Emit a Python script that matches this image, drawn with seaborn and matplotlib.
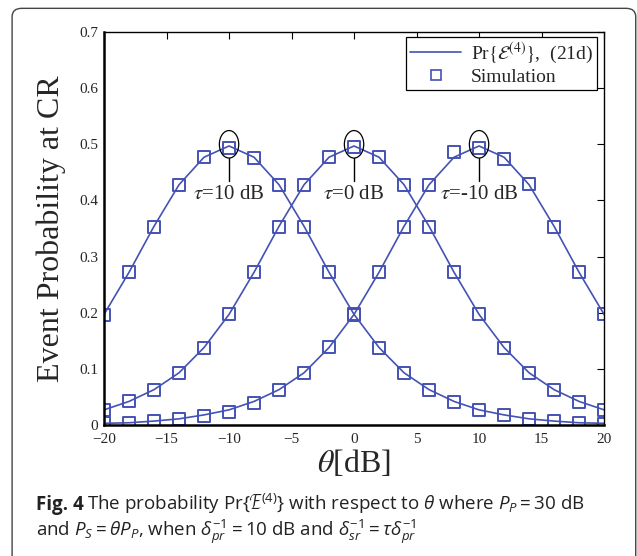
import matplotlib.pyplot as plt
import seaborn as sns
import numpy as np
import pandas as pd
from matplotlib.patches import Ellipse, FancyBboxPatch
from matplotlib.lines import Line2D

# theta in dB, every 2 dB
theta = [-20, -18, -16, -14, -12, -10, -8, -6, -4, -2, 0,
         2, 4, 6, 8, 10, 12, 14, 16, 18, 20]

# analytical curves (21d) for tau = 10, 0, -10 dB
pr_tau_p10 = [0.197, 0.272, 0.354, 0.428, 0.477, 0.497, 0.477, 0.428, 0.354, 0.272, 0.197,
              0.138, 0.093, 0.063, 0.042, 0.027, 0.018, 0.011, 0.007, 0.004, 0.003]
pr_tau_0 = [0.027, 0.042, 0.063, 0.093, 0.138, 0.197, 0.272, 0.354, 0.428, 0.477, 0.497,
            0.477, 0.428, 0.354, 0.272, 0.197, 0.138, 0.093, 0.063, 0.042, 0.027]
pr_tau_m10 = [0.003, 0.004, 0.007, 0.011, 0.018, 0.027, 0.042, 0.063, 0.093, 0.138, 0.197,
              0.272, 0.354, 0.428, 0.477, 0.497, 0.477, 0.428, 0.354, 0.272, 0.197]

# simulation points
sim_tau_p10 = [0.196, 0.272, 0.353, 0.428, 0.477, 0.494, 0.475, 0.427, 0.353, 0.272, 0.197,
               0.138, 0.092, 0.063, 0.041, 0.026, 0.018, 0.011, 0.007, 0.004, 0.002]
sim_tau_0 = [0.027, 0.042, 0.063, 0.092, 0.138, 0.197, 0.272, 0.353, 0.428, 0.477, 0.495,
             0.477, 0.428, 0.353, 0.272, 0.197, 0.138, 0.092, 0.063, 0.041, 0.026]
sim_tau_m10 = [0.003, 0.004, 0.007, 0.011, 0.016, 0.024, 0.040, 0.063, 0.092, 0.139, 0.196,
               0.272, 0.352, 0.428, 0.487, 0.494, 0.474, 0.429, 0.353, 0.272, 0.197]

taus = [10, 0, -10]
tau_labels = [r"$\tau$=10 dB", r"$\tau$=0 dB", r"$\tau$=-10 dB"]
peak_theta = [-10, 0, 10]

model = pd.DataFrame({
    "theta": theta * 3,
    "prob": pr_tau_p10 + pr_tau_0 + pr_tau_m10,
    "tau": np.repeat(taus, len(theta)),
})
sim = pd.DataFrame({
    "theta": theta * 3,
    "prob": sim_tau_p10 + sim_tau_0 + sim_tau_m10,
    "tau": np.repeat(taus, len(theta)),
})

sns.set_style("white")
plt.rcParams["font.family"] = ["Liberation Serif", "DejaVu Serif"]
plt.rcParams["mathtext.fontset"] = "custom"
plt.rcParams["mathtext.rm"] = "Open Sans"
plt.rcParams["mathtext.it"] = "Open Sans:italic"
plt.rcParams["mathtext.bf"] = "Open Sans:bold"

blue = "#4452b3"

fig = plt.figure(figsize=(6.37, 5.56), dpi=100)
ax = fig.add_axes([0.1633, 0.2356, 0.785, 0.7068])

sns.lineplot(data=model, x="theta", y="prob", units="tau", estimator=None,
             color=blue, lw=1.2, ax=ax, legend=False)
sns.scatterplot(data=sim, x="theta", y="prob", marker="s", s=75,
                facecolors="none", edgecolor=blue, linewidth=1.4, ax=ax, legend=False)

# annotations at the peaks
for x0, lab in zip(peak_theta, tau_labels):
    ax.add_patch(Ellipse((x0, 0.500), width=1.55, height=0.049, fill=False,
                         edgecolor="black", lw=0.9, zorder=5))
    ax.plot([x0, x0], [0.4755, 0.435], color="black", lw=1.0)
    t = ax.text(x0, 0.410, lab, ha="center", va="center", fontsize=15)
    t.set_math_fontfamily("stix")

ax.set_xlim(-20, 20)
ax.set_ylim(0, 0.7)
ax.set_xticks(np.arange(-20, 21, 5))
ax.set_yticks(np.arange(0, 0.71, 0.1))
ax.set_yticklabels(["0", "0.1", "0.2", "0.3", "0.4", "0.5", "0.6", "0.7"])
ax.tick_params(direction="in", top=True, right=True, length=5, width=0.8,
               labelsize=11, color="black")
ax.tick_params(axis="x", pad=6)
ax.tick_params(axis="y", pad=4)
for sp in ax.spines.values():
    sp.set_color("black")
    sp.set_linewidth(1.0)
ax.spines["left"].set_linewidth(1.8)
ax.spines["bottom"].set_linewidth(1.8)

ax.set_ylabel("Event Probability at CR", fontsize=23, labelpad=10)
xl = ax.set_xlabel(r"$\theta$[dB]", fontsize=23, labelpad=1)
xl.set_math_fontfamily("stix")

handles = [Line2D([], [], color=blue, lw=1.2),
           Line2D([], [], color=blue, marker="s", ls="none", markersize=7,
                  markerfacecolor="none", markeredgewidth=1.2)]
leg = ax.legend(handles, [r"Pr$\{\mathcal{E}^{(4)}\}$,  (21d)", "Simulation"],
                loc="upper right", bbox_to_anchor=(0.985, 0.988), fontsize=14,
                frameon=True, fancybox=False, edgecolor="black", framealpha=1,
                handlelength=2.6, handletextpad=0.5, borderpad=0.2,
                labelspacing=0.15, borderaxespad=0)
leg.get_frame().set_linewidth(0.9)
for t in leg.get_texts():
    t.set_math_fontfamily("stix")

# caption: bold "Fig. 4" followed by the text on the same baseline
cap_font = ["Open Sans", "DejaVu Sans"]
cap1 = (r"The probability Pr{$\mathcal{E}^{(4)}$} with respect to "
        r"$\theta$ where $P_P = 30$ dB")
cap2 = (r"and $P_S = \theta P_P$, when $\delta_{pr}^{-1} = 10$ dB and "
        r"$\delta_{sr}^{-1} = \tau\delta_{pr}^{-1}$")
fig_lab = fig.text(0.056, 0.083, "Fig. 4", fontsize=13.5, family=cap_font,
                   weight="bold", va="baseline", color="#222222")
renderer = fig.canvas.get_renderer()
bb = fig_lab.get_window_extent(renderer)
x_rest = (bb.x1 + 4) / fig.bbox.width
fig.text(x_rest, 0.083, cap1, fontsize=13.5, family=cap_font,
         va="baseline", color="#222222")
fig.text(0.056, 0.036, cap2, fontsize=13.5, family=cap_font,
         va="baseline", color="#222222")

# rounded frame around the figure
frame = FancyBboxPatch((0.019, -0.05), 0.979, 1.035, transform=fig.transFigure,
                       boxstyle="round,pad=0,rounding_size=0.015",
                       fill=False, edgecolor="#444444", lw=1.0)
fig.patches.append(frame)

fig.savefig("out.png", dpi=100)
